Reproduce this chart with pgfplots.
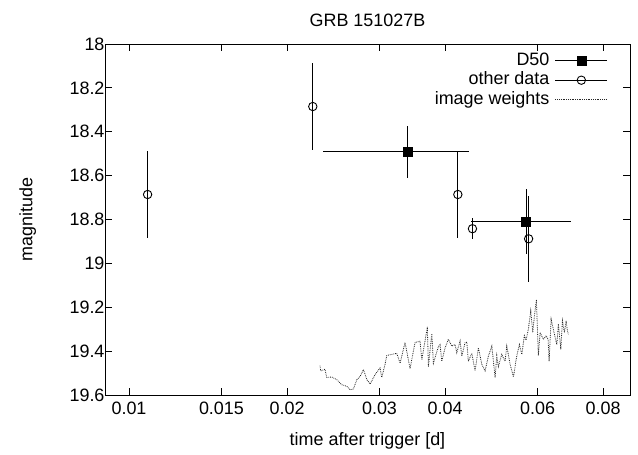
\documentclass[border=0pt]{standalone}
\usepackage{fontspec}
\setmainfont{Liberation Sans}
\usepackage{pgfplots}
\pgfplotsset{compat=1.18}
\pgfplotsset{
  errleg/.style={legend image code/.code={\draw[black, line width=0.9bp] (0bp,0bp) -- (52bp,0bp); \draw[##1] plot coordinates {(26bp,0bp)};}},
  lineleg/.style={legend image code/.code={\draw[##1] (0bp,0bp) -- (52bp,0bp);}},
}
\begin{document}
\begin{tikzpicture}[font=\fontsize{18}{21.6}\selectfont]
\useasboundingbox (-105bp,-60bp) rectangle (533bp,395bp);
\begin{axis}[
  at={(0,0)}, anchor=south west,
  scale only axis, width=525bp, height=351bp,
  xmode=log, xmin=0.009, xmax=0.09,
  ymin=18, ymax=19.6, y dir=reverse,
  xtick={0.01,0.015,0.02,0.03,0.04,0.06,0.08},
  xticklabels={0.01,0.015,0.02,0.03,0.04,0.06,0.08},
  ytick={18,18.2,18.4,18.6,18.8,19,19.2,19.4,19.6},
  yticklabels={18,18.2,18.4,18.6,18.8,19,19.2,19.4,19.6},
  xminorticks=false, yminorticks=false,
  tick align=inside, major tick length=7bp,
  tick style={black, line width=0.8bp},
  axis line style={black, line width=0.9bp},
  xticklabel style={yshift=-3bp},
  yticklabel style={xshift=3bp},
  title={GRB 151027B},
  every axis title/.style={at={(axis description cs:0.5,1)}, anchor=center, yshift=24bp},
  xlabel={time after trigger [d]},
  ylabel={magnitude},
  every axis x label/.style={at={(axis description cs:0.5,-0.131)}, anchor=center},
  every axis y label/.style={at={(axis description cs:-0.147,0.5)}, rotate=90, anchor=center},
  legend plot pos=right,
  legend cell align=right,
  legend style={draw=none, fill=none, at={(1,1)}, anchor=north east,
    xshift=-19bp, yshift=-5bp, row sep=0.5bp, column sep=4bp,
    nodes={inner sep=1.5bp, text height=12.5bp, text depth=3.5bp}},
]
% D50
\addplot[only marks, mark=square*, mark size=4.5bp, black, errleg,
  error bars/.cd, x dir=both, x explicit, y dir=both, y explicit, error mark=none,
  error bar style={line width=0.9bp, black}]
  table[x=x, y=y, x error=ex, y error=ey] {
x       y       ex      ey
0.0339  18.492  0.0105  0.118
0.05705 18.81   0.0123  0.147
};
\addlegendentry{D50}
% other data
\addplot[only marks, mark=o, mark size=4.2bp, black, mark options={line width=0.9bp}, errleg,
  error bars/.cd, y dir=both, y explicit, error mark=none,
  error bar style={line width=0.9bp, black}]
  table[x=x, y=y, y error=ey] {
x       y       ey
0.01085 18.686  0.2
0.02239 18.285  0.2
0.0423  18.686  0.2
0.0451  18.842  0.047
0.0577  18.888  0.196
};
\addlegendentry{other data}
% image weights
\addplot[black!85, densely dotted, line width=0.8bp, lineleg]
  table[x=x, y=y] {
x       y
0.02311 19.466
0.02318 19.490
0.02362 19.483
0.02380 19.520
0.02433 19.518
0.02487 19.530
0.02542 19.553
0.02598 19.560
0.02637 19.576
0.02675 19.573
0.02716 19.530
0.02756 19.515
0.02796 19.484
0.02838 19.530
0.02879 19.550
0.02943 19.507
0.03007 19.477
0.03030 19.520
0.03074 19.460
0.03097 19.420
0.03166 19.415
0.03236 19.410
0.03284 19.455
0.03356 19.360
0.03430 19.480
0.03507 19.360
0.03584 19.355
0.03612 19.440
0.03701 19.290
0.03718 19.470
0.03774 19.320
0.03800 19.455
0.03884 19.380
0.03914 19.370
0.03942 19.446
0.04000 19.385
0.04058 19.346
0.04120 19.377
0.04179 19.370
0.04211 19.407
0.04272 19.354
0.04304 19.423
0.04367 19.360
0.04400 19.360
0.04430 19.446
0.04497 19.410
0.04562 19.490
0.04629 19.385
0.04699 19.460
0.04767 19.490
0.04837 19.423
0.04910 19.377
0.04981 19.520
0.05018 19.420
0.05053 19.470
0.05129 19.415
0.05204 19.446
0.05243 19.377
0.05320 19.460
0.05398 19.518
0.05479 19.420
0.05541 19.370
0.05600 19.415
0.05663 19.330
0.05706 19.350
0.05764 19.300
0.05824 19.216
0.05876 19.315
0.05918 19.240
0.05970 19.166
0.06022 19.420
0.06068 19.315
0.06156 19.346
0.06230 19.330
0.06285 19.346
0.06313 19.446
0.06368 19.254
0.06452 19.315
0.06530 19.370
0.06575 19.277
0.06645 19.392
0.06692 19.262
0.06750 19.315
0.06802 19.262
0.06841 19.308
0.06871 19.323
};
\addlegendentry{image weights}
\end{axis}
\end{tikzpicture}
\end{document}
